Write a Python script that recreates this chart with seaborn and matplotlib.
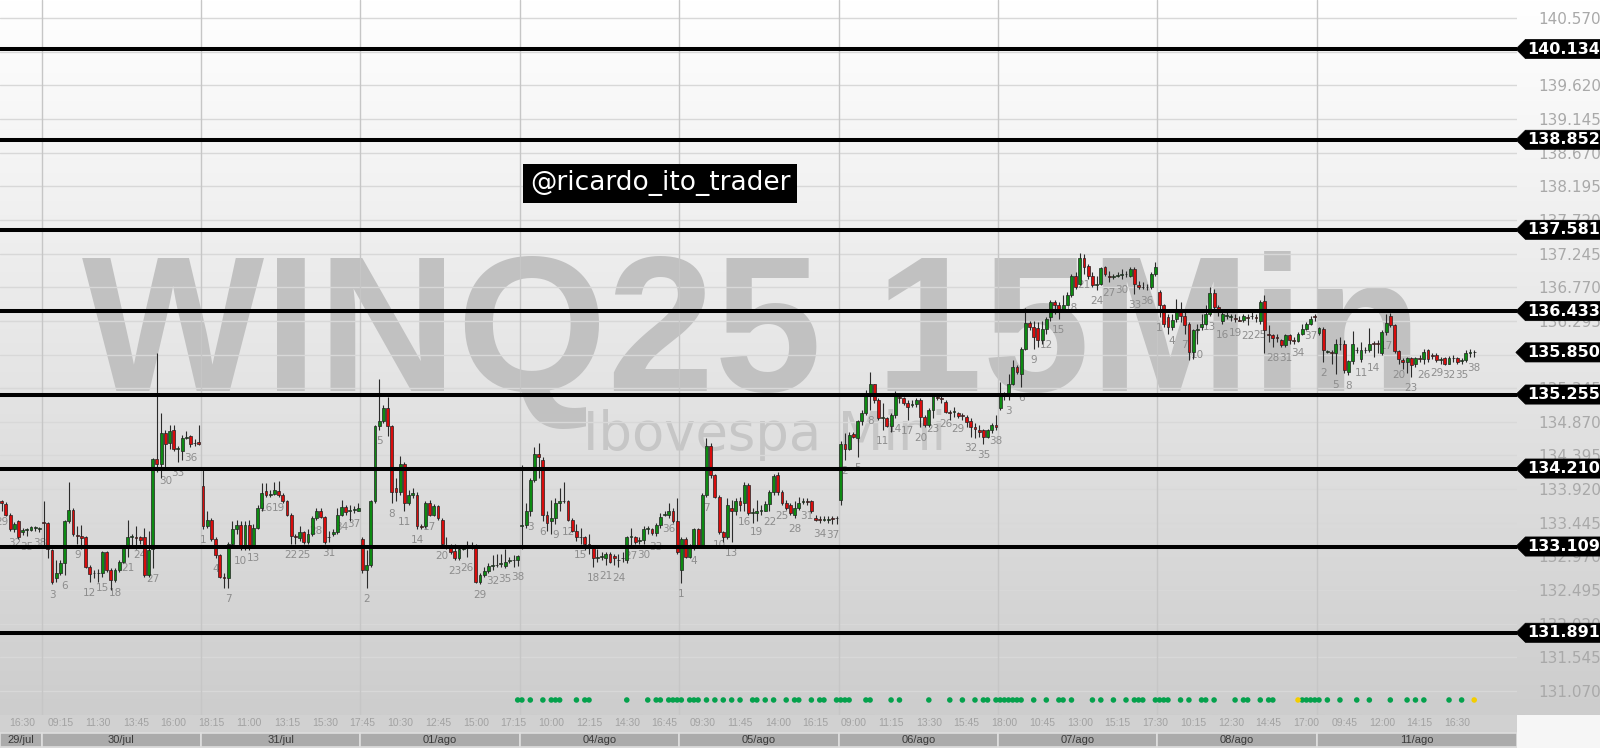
import matplotlib
matplotlib.use("Agg")
import matplotlib.pyplot as plt
import matplotlib.transforms as mtransforms
from matplotlib.colors import LinearSegmentedColormap
from matplotlib.patches import Rectangle
from matplotlib.path import Path
import numpy as np
import pandas as pd
import seaborn as sns

# candles de 15 min: (abertura, maxima, minima, fechamento) em pontos
jul29 = [(133745, 133770, 133610, 133725), (133710, 133735, 133540, 133560), (133560, 133585, 133330, 133355),
         (133355, 133460, 133310, 133430), (133470, 133490, 133215, 133240), (133320, 133370, 133275, 133340),
         (133340, 133375, 133260, 133355), (133340, 133400, 133330, 133385), (133370, 133400, 133330, 133375),
         (133355, 133385, 133320, 133365)]
jul30 = [(133460, 133755, 133100, 133445), (133445, 133460, 132940, 133075), (133055, 133075, 132585, 132615),
         (132660, 132915, 132615, 132730), (132730, 132915, 132710, 132870), (132870, 133490, 132710, 133470),
         (133470, 134025, 133445, 133630), (133630, 133655, 133260, 133285), (133275, 133400, 133145, 133260),
         (133260, 133410, 133075, 133230), (133240, 133260, 132800, 132825), (132825, 132845, 132615, 132720),
         (132730, 132775, 132660, 132740), (132740, 132785, 132615, 132730), (132730, 133045, 132685, 133030),
         (133030, 133045, 132755, 132775), (132775, 132800, 132500, 132640), (132640, 132800, 132615, 132775),
         (132775, 132915, 132755, 132890), (132890, 133125, 132870, 133100), (133125, 133490, 132960, 133240),
         (133240, 133285, 133100, 133260), (133240, 133400, 133075, 133230), (133240, 133260, 133145, 133200),
         (133240, 133375, 132685, 132710), (132710, 133330, 132685, 133055), (133075, 134355, 132800, 134345),
         (134345, 135845, 134160, 134275), (134275, 134990, 134070, 134715), (134715, 134760, 134185, 134555),
         (134575, 134830, 134485, 134740), (134760, 134830, 134460, 134485), (134485, 134530, 134300, 134495),
         (134460, 134690, 134325, 134645), (134645, 134740, 134625, 134660), (134670, 134690, 134510, 134555),
         (134565, 134625, 134530, 134570), (134585, 134830, 134540, 134555)]
jul31 = [(133970, 134185, 133355, 133400), (133400, 133610, 133375, 133490), (133490, 133515, 133190, 133215),
         (133215, 133240, 132940, 132985), (132985, 133010, 132660, 132685), (132685, 132730, 132525, 132670),
         (132670, 133170, 132525, 133145), (133145, 133470, 133100, 133355), (133355, 133490, 133285, 133415),
         (133415, 133470, 133055, 133100), (133100, 133470, 133055, 133415), (133415, 133490, 133055, 133125),
         (133125, 133425, 133100, 133375), (133375, 133700, 133355, 133655), (133655, 134000, 133610, 133860),
         (133895, 134000, 133815, 133840), (133840, 133910, 133815, 133850), (133850, 134025, 133840, 133910),
         (133895, 134030, 133815, 133840), (133840, 133860, 133725, 133745), (133745, 133770, 133540, 133560),
         (133560, 133585, 133145, 133260), (133260, 133285, 133145, 133250), (133230, 133400, 133190, 133310),
         (133310, 133330, 133145, 133170), (133170, 133355, 133145, 133285), (133285, 133540, 133260, 133515),
         (133515, 133655, 133490, 133610), (133615, 133655, 133505, 133525), (133525, 133540, 133145, 133170),
         (133240, 133330, 133170, 133250), (133285, 133355, 133260, 133320), (133310, 133655, 133285, 133560),
         (133560, 133770, 133540, 133665), (133665, 133700, 133560, 133600), (133615, 133700, 133470, 133615),
         (133625, 133675, 133585, 133635), (133615, 133725, 133610, 133655)]
ago01 = [(133215, 133240, 132730, 132775), (132775, 133055, 132525, 132845), (132845, 133770, 132825, 133745),
         (133745, 134830, 133725, 134810), (134810, 135475, 134760, 134875), (134875, 135110, 134855, 135060),
         (135060, 135225, 134670, 134810), (134810, 134830, 133725, 133885), (133930, 134070, 133745, 133875),
         (133875, 134390, 133840, 134275), (134275, 134300, 133610, 133725), (133725, 133910, 133700, 133840),
         (133840, 133930, 133790, 133860), (133840, 133885, 133355, 133400), (133400, 133425, 133355, 133385),
         (133400, 133745, 133375, 133725), (133725, 133770, 133540, 133560), (133560, 133710, 133540, 133675),
         (133675, 133700, 133490, 133515), (133490, 133515, 133125, 133145), (133135, 133240, 133075, 133100),
         (133100, 133145, 133010, 133030), (133045, 133145, 132915, 132940), (132940, 133100, 132915, 133075),
         (133075, 133125, 133055, 133100), (133125, 133190, 132960, 133100), (133100, 133170, 133075, 133125),
         (133125, 133145, 132590, 132615), (132615, 132730, 132585, 132710), (132710, 132825, 132685, 132770),
         (132770, 132870, 132730, 132830), (132830, 132985, 132775, 132845), (132845, 133010, 132815, 132855),
         (132860, 133010, 132825, 132870), (132830, 133075, 132800, 132890), (132905, 132960, 132870, 132915),
         (132915, 132985, 132825, 132925), (132915, 132985, 132830, 132970)]
ago04 = [(133400, 134255, 133075, 133410), (133410, 133725, 133375, 133610), (133610, 134070, 133540, 134045),
         (134045, 134510, 134025, 134415), (134415, 134575, 134070, 134370), (134325, 134370, 133470, 133560),
         (133560, 133610, 133330, 133445), (133470, 133770, 133285, 133515), (133505, 133790, 133425, 133725),
         (133725, 133930, 133610, 133755), (133755, 134025, 133725, 133745), (133745, 133770, 133470, 133490),
         (133490, 133515, 133310, 133330), (133330, 133425, 133190, 133240), (133250, 133375, 133145, 133240),
         (133240, 133260, 133055, 133145), (133145, 133285, 133010, 133100), (133100, 133125, 132825, 132940),
         (132950, 133075, 132890, 132960), (132960, 133030, 132915, 132970), (132940, 133030, 132845, 133010),
         (133010, 133030, 132870, 132890), (132970, 133010, 132845, 132950), (132915, 133010, 132825, 132925),
         (132940, 133030, 132890, 132950), (132915, 133260, 132870, 133240), (133240, 133375, 133125, 133260),
         (133240, 133260, 133145, 133170), (133185, 133240, 133145, 133190), (133200, 133400, 133145, 133355),
         (133355, 133400, 133285, 133370), (133355, 133375, 133275, 133300), (133300, 133445, 133260, 133410),
         (133410, 133585, 133375, 133525), (133560, 133610, 133540, 133570), (133560, 133725, 133515, 133610),
         (133610, 133655, 133445, 133470), (133470, 133790, 133010, 133030)]
ago05 = [(132775, 133240, 132590, 133215), (133215, 133240, 132940, 132960), (132960, 133145, 132940, 133100),
         (133100, 133375, 133055, 133355), (133355, 133375, 133100, 133125), (133125, 133860, 133100, 133840),
         (133840, 134645, 133815, 134530), (134530, 134575, 134070, 134115), (134115, 134140, 133790, 133815),
         (133815, 133840, 133285, 133310), (133310, 133330, 133170, 133240), (133240, 133790, 133215, 133700),
         (133655, 133770, 133170, 133610), (133610, 133790, 133560, 133745), (133745, 133815, 133610, 133690),
         (133725, 134025, 133610, 133975), (133975, 134000, 133560, 133585), (133585, 133655, 133445, 133600),
         (133585, 133770, 133470, 133610), (133610, 133700, 133560, 133615), (133610, 133745, 133610, 133710),
         (133710, 133910, 133610, 133875), (133875, 134140, 133840, 134105), (134115, 134160, 133840, 133885),
         (133885, 133910, 133700, 133725), (133725, 133770, 133630, 133655), (133690, 133725, 133560, 133585),
         (133560, 133745, 133515, 133655), (133655, 133815, 133630, 133725), (133735, 133790, 133710, 133745),
         (133745, 133800, 133700, 133735), (133745, 133770, 133585, 133610), (133505, 133560, 133470, 133490),
         (133490, 133540, 133445, 133485), (133490, 133540, 133470, 133500), (133490, 133540, 133445, 133490),
         (133505, 133540, 133425, 133500), (133505, 133540, 133425, 133515)]
ago06 = [(133770, 134600, 133700, 134555), (134555, 134715, 134330, 134480), (134480, 134730, 134475, 134685),
         (134695, 134730, 134635, 134660), (134635, 134895, 134370, 134885), (134885, 135035, 134825, 135000),
         (134990, 135315, 134965, 135280), (135280, 135575, 135035, 135400), (135400, 135410, 135130, 135175),
         (135175, 135200, 134895, 134920), (134920, 135130, 134755, 134940), (134920, 134940, 134800, 134810),
         (134810, 134990, 134730, 134965), (134965, 135305, 134920, 135270), (135225, 135280, 135130, 135200),
         (135200, 135225, 135105, 135130), (135130, 135175, 134895, 135075), (135105, 135175, 135085, 135120),
         (135120, 135200, 135085, 135175), (135175, 135200, 134800, 134940), (134940, 134965, 134800, 134825),
         (134825, 135060, 134800, 135035), (135035, 135280, 134920, 135230), (135225, 135280, 135175, 135200),
         (135200, 135270, 135130, 135185), (135155, 135175, 134990, 135010), (135010, 135035, 134895, 135000),
         (135010, 135085, 134940, 135020), (134990, 135010, 134920, 134950), (134965, 134990, 134895, 134950),
         (134940, 134965, 134800, 134870), (134885, 134920, 134660, 134800), (134790, 134850, 134635, 134775),
         (134755, 134825, 134660, 134730), (134755, 134775, 134555, 134650), (134650, 134775, 134635, 134755),
         (134755, 134850, 134705, 134825), (134825, 134965, 134755, 134790)]
ago07 = [(135060, 135435, 135035, 135230), (135230, 135295, 135175, 135245), (135245, 135550, 135175, 135410),
         (135410, 135740, 135385, 135645), (135645, 135670, 135550, 135575), (135550, 135925, 135365, 135905),
         (135905, 136480, 135880, 136265), (136265, 136300, 136160, 136210), (136210, 136300, 135905, 136065),
         (136200, 136280, 135925, 136020), (136020, 136290, 135975, 136185), (136185, 136350, 136115, 136325),
         (136350, 136585, 136300, 136560), (136560, 136585, 136395, 136515), (136525, 136560, 136325, 136465),
         (136465, 136655, 136440, 136515), (136525, 136700, 136515, 136655), (136655, 136960, 136630, 136935),
         (136935, 136980, 136745, 136770), (136820, 137250, 136795, 137185), (137185, 137240, 136960, 137050),
         (137075, 137100, 136890, 136935), (136935, 136980, 136770, 136795), (136795, 136935, 136725, 136820),
         (136820, 137060, 136795, 137045), (137050, 137065, 136935, 136960), (136935, 137005, 136840, 136920),
         (136920, 136960, 136890, 136930), (136935, 136980, 136910, 136945), (136945, 137030, 136890, 136960),
         (136950, 137005, 136910, 136960), (136935, 137050, 136910, 137030), (137030, 137050, 136675, 136820),
         (136795, 136865, 136745, 136780), (136780, 136840, 136745, 136770), (136770, 136820, 136725, 136780),
         (136780, 136980, 136745, 136960), (136960, 137120, 136935, 137050)]
ago08 = [(136700, 136725, 136350, 136515), (136515, 136535, 136210, 136255), (136350, 136395, 136115, 136210),
         (136210, 136395, 136160, 136310), (136325, 136605, 136280, 136430), (136430, 136560, 136280, 136370),
         (136370, 136420, 136115, 136230), (136255, 136280, 135740, 135855), (135855, 136185, 135760, 136160),
         (136160, 136255, 135975, 136185), (136210, 136395, 136160, 136255), (136255, 136515, 136230, 136395),
         (136395, 136780, 136370, 136685), (136685, 136745, 136465, 136490), (136490, 136515, 136370, 136420),
         (136300, 136420, 136255, 136395), (136370, 136465, 136325, 136380), (136350, 136395, 136300, 136360),
         (136340, 136395, 136280, 136325), (136310, 136370, 136290, 136300), (136310, 136395, 136280, 136370),
         (136350, 136395, 136230, 136340), (136360, 136420, 136325, 136370), (136350, 136395, 136280, 136340),
         (136300, 136585, 136255, 136560), (136575, 136655, 135835, 136170), (136115, 136230, 135995, 136090),
         (136090, 136115, 135925, 136060), (136070, 136115, 135995, 136060), (136030, 136045, 135925, 135950),
         (135950, 136115, 135925, 136090), (136090, 136115, 135975, 136030), (136030, 136070, 135975, 136010),
         (136010, 136140, 135995, 136115), (136115, 136255, 136090, 136185), (136185, 136280, 136160, 136245),
         (136245, 136370, 136230, 136325), (136370, 136395, 136300, 136350)]
ago11 = [(136125, 136210, 136090, 136200), (136185, 136210, 135715, 135880), (135855, 135880, 135835, 135855),
         (135845, 135880, 135690, 135840), (135835, 136045, 135550, 135975), (135975, 136070, 135880, 135965),
         (135965, 136020, 135560, 135600), (135575, 135740, 135530, 135730), (135730, 136150, 135690, 135975),
         (135880, 135925, 135835, 135890), (135750, 135995, 135715, 135880), (135880, 135925, 135835, 135890),
         (135880, 136200, 135855, 135975), (135985, 136010, 135785, 135975), (135985, 136020, 135835, 135975),
         (135835, 136160, 135810, 136140), (136140, 136395, 136090, 136265), (136360, 136405, 136210, 136230),
         (136230, 136255, 135835, 135870), (135870, 135880, 135690, 135750), (135740, 135765, 135620, 135715),
         (135715, 135785, 135560, 135765), (135765, 135785, 135505, 135670), (135690, 135785, 135645, 135775),
         (135765, 135810, 135715, 135750), (135750, 135905, 135690, 135855), (135880, 135905, 135715, 135750),
         (135810, 135835, 135750, 135795), (135810, 135835, 135715, 135740), (135740, 135785, 135690, 135750),
         (135775, 135785, 135670, 135685), (135690, 135795, 135680, 135775), (135765, 135810, 135715, 135770),
         (135765, 135785, 135690, 135715), (135730, 135765, 135690, 135740), (135740, 135880, 135715, 135840),
         (135840, 135905, 135785, 135850), (135850, 135890, 135785, 135850)]

# (rotulo do dia, numero do primeiro candle, candles)
days = [("29/jul", 29, jul29), ("30/jul", 1, jul30), ("31/jul", 1, jul31), ("01/ago", 1, ago01),
        ("04/ago", 1, ago04), ("05/ago", 1, ago05), ("06/ago", 1, ago06), ("07/ago", 1, ago07),
        ("08/ago", 1, ago08), ("11/ago", 1, ago11)]

levels = [140134, 138852, 137581, 136433, 135255, 134210, 133109, 131891]
last_price = 135850
yticks = list(range(131070, 140571, 475))

# indices dos candles com sinal (bolinhas no rodape)
signal_green = [123, 124, 126, 129, 131, 132, 133, 137, 139, 140, 149, 154, 156, 157, 159, 160, 161, 162,
                164, 165, 166, 168, 170, 172, 174, 176, 179, 180, 182, 184, 187, 189, 190, 193, 195, 196,
                199, 200, 201, 202, 206, 207, 212, 214, 221, 226, 229, 232, 234, 235, 237, 238, 239, 240,
                241, 242, 243, 246, 249, 252, 253, 255, 260, 262, 265, 268, 270, 271, 272, 275, 276, 277,
                278, 281, 283, 286, 287, 289, 294, 296, 297, 300, 302, 303, 310, 311, 312, 313, 314, 316,
                319, 323, 326, 331, 335, 337, 339, 345, 348]
signal_yellow = [309, 351]

OUTPUT_FILEPATH = 'out.png'

sns.set_style("white")
plt.rcParams['font.family'] = ['DejaVu Sans']


def fmt(v):
    return f"{v / 1000:.3f}"


# caixa preta com ponta para a esquerda (etiqueta de preco)
def tag_box(x0, y0, width, height, mutation_size):
    pad = mutation_size * 0.13
    x0, y0 = x0 - pad, y0 - pad
    x1, y1 = x0 + width + 2 * pad, y0 + height + 2 * pad
    tip = (y1 - y0) / 2
    return Path([(x0, y0), (x1, y0), (x1, y1), (x0, y1), (x0 - tip, y0 + tip), (x0, y0)], closed=True)


def build_df():
    rows = []
    for day, first, candles in days:
        for k, (o, h, l, c) in enumerate(candles):
            minutes = 9 * 60 + 15 * (first + k - 1)
            rows.append(dict(day=day, num=first + k, open=o, high=max(h, o, c), low=min(l, o, c), close=c,
                             time=f"{minutes // 60:02d}:{minutes % 60:02d}"))
    df = pd.DataFrame(rows)
    df['i'] = np.arange(len(df))
    return df


def main():
    df = build_df()
    W, H = 1600, 748
    plot_bottom = 33 / H
    plot_right = 1517 / W

    fig = plt.figure(figsize=(16, 7.48), dpi=100, facecolor='#f6f6f6')

    # fundo degrade
    bg = fig.add_axes([0, plot_bottom, 1, 1 - plot_bottom])
    bg.imshow(np.linspace(0, 1, 256).reshape(-1, 1), aspect='auto', extent=[0, 1, 0, 1],
              cmap=LinearSegmentedColormap.from_list('bg', ['#ffffff', '#cdcdcd']))
    bg.axis('off')

    ax = fig.add_axes([0, plot_bottom, plot_right, 1 - plot_bottom])
    ax.patch.set_alpha(0)
    for s in ax.spines.values():
        s.set_visible(False)

    # marca d'agua
    ax.text(0.496, 0.453, "WINQ25 15Min", transform=ax.transAxes, ha='center', va='baseline',
            fontsize=139, fontweight='bold', family='Liberation Sans', color='#c1c1c1', zorder=0.3)
    ax.text(0.384, 0.371, "Ibovespa Mini", transform=ax.transAxes, ha='left', va='baseline',
            fontsize=38, color='#c6c6c6', zorder=0.3)

    # grade
    for t in yticks:
        ax.axhline(t, color='#d8d8d8', lw=1, zorder=1)
    bounds = df.groupby('day', sort=False)['i'].min().values[1:] - 0.5
    for b in bounds:
        ax.axvline(b, color='#c6c6c6', lw=1, zorder=1)

    # candles
    up = df['close'] >= df['open']
    ax.vlines(df['i'], df['low'], df['high'], color='#2b2b2b', lw=0.8, zorder=3)
    body = (df['close'] - df['open']).abs().clip(lower=10)
    ax.bar(df['i'], body, bottom=df[['open', 'close']].min(axis=1), width=0.68,
           color=np.where(up, '#0d8a12', '#d80c0c'), edgecolor='#222222', linewidth=0.5, zorder=4)

    # numero do candle a cada 3
    for _, r in df[df['i'] % 3 == 0].iterrows():
        ax.annotate(str(r['num']), (r['i'], r['low']), xytext=(0, -6), textcoords='offset pixels',
                    ha='center', va='top', fontsize=7.5, color='#8d8d8d', zorder=2)

    # linhas de suporte/resistencia e etiquetas
    tag_trans = mtransforms.blended_transform_factory(ax.transAxes, ax.transData) + \
        mtransforms.ScaledTranslation(0.105, 0, fig.dpi_scale_trans)
    for v in levels:
        ax.axhline(v, color='black', lw=2.9, zorder=5)
    for v in levels + [last_price]:
        ax.text(1, v, fmt(v), transform=tag_trans, ha='left', va='center', fontsize=11.5,
                fontweight='bold', color='white', clip_on=False, zorder=10,
                bbox=dict(boxstyle=tag_box, fc='black', ec='black', lw=0.5))

    # sinais
    sig = pd.DataFrame({'i': signal_green + signal_yellow,
                        'kind': ['buy'] * len(signal_green) + ['alert'] * len(signal_yellow)})
    sig['y'] = 0.021
    dot_trans = mtransforms.blended_transform_factory(ax.transData, ax.transAxes)
    sns.scatterplot(data=sig, x='i', y='y', hue='kind', palette={'buy': '#04a14c', 'alert': '#f3cd00'},
                    s=16, linewidth=0, legend=False, ax=ax, transform=dot_trans, zorder=6)

    ax.set_xlim(-0.405, 361.2)
    ax.set_ylim(130730, 140826)
    ax.set_xlabel('')
    ax.set_ylabel('')
    ax.yaxis.tick_right()
    ax.set_yticks(yticks)
    ax.set_yticklabels([fmt(t) for t in yticks])
    ax.tick_params(axis='y', length=0, pad=15, labelsize=11, labelcolor='#a9a9a9')
    ax.set_xticks([])

    # eixo de tempo e datas
    axb = fig.add_axes([0, 0, plot_right, plot_bottom])
    axb.set_facecolor('#d1d1d1')
    for s in axb.spines.values():
        s.set_visible(False)
    axb.set_xlim(-0.405, 361.2)
    axb.set_ylim(0, 33)
    axb.set_xticks([])
    axb.set_yticks([])
    for _, r in df[(df['i'] - 2) % 9 == 0].iterrows():
        axb.text(r['i'] - 0.1, 25, r['time'], ha='left', va='center', fontsize=7.5,
                 family='Liberation Sans', color='#a2a2a2')
    grp = df.groupby('day', sort=False)['i']
    starts, ends = grp.min(), grp.max()
    for n, day in enumerate(starts.index):
        x0 = -0.405 if n == 0 else starts[day] - 0.5
        x1 = 361.2 if n == len(starts) - 1 else ends[day] + 0.5
        axb.add_patch(Rectangle((x0, 1.5), x1 - x0, 13.5, facecolor='#ababab', edgecolor='#dedede', lw=1.2))
        axb.text((x0 + x1) / 2, 8.2, day, ha='center', va='center', fontsize=8,
                 family='Liberation Sans', color='#3a3a3a')

    fig.text(660 / W, 1 - 183.5 / H, "@ricardo_ito_trader", ha='center', va='center', fontsize=19,
             color='white', bbox=dict(boxstyle='square,pad=0.25', fc='black', ec='none'))

    fig.savefig(OUTPUT_FILEPATH, dpi=100, facecolor=fig.get_facecolor())


if __name__ == '__main__':
    main()
